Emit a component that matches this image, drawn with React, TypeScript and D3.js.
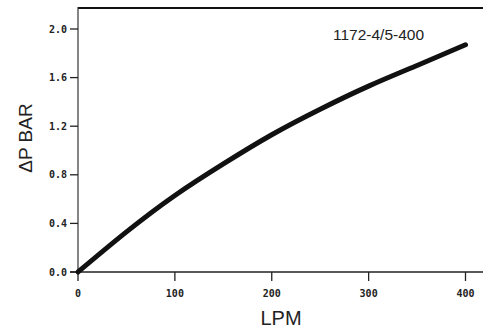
import React from "react";
import * as d3 from "d3";

const flowLPM = [0, 50, 100, 150, 200, 250, 300, 350, 400];
const deltaP = [0, 0.33, 0.63, 0.89, 1.13, 1.34, 1.53, 1.70, 1.87];
const xTicks = [0, 100, 200, 300, 400];
const yTicks = [0, 0.4, 0.8, 1.2, 1.6, 2.0];
const yTickLabels = ["0.0", "0.4", "0.8", "1.2", "1.6", "2.0"];
const seriesLabel = "1172-4/5-400";

export default function App() {
  const W = 483, H = 330;
  const x = d3.scaleLinear().domain([0, 400]).range([78, 465.5]);
  const y = d3.scaleLinear().domain([0, 2.0]).range([272, 29]);
  const line = d3
    .line<number>()
    .x((_, i) => x(flowLPM[i]))
    .y((d) => y(d))
    .curve(d3.curveNatural);
  const tickFont = "'DejaVu Sans Mono', monospace";
  return (
    <svg
      width={W}
      height={H}
      style={{ position: "absolute", left: 0, top: 0, background: "#fff" }}
    >
      <line x1={78} y1={8} x2={483} y2={8} stroke="#111" strokeWidth={2.2} />
      <line x1={78} y1={7} x2={78} y2={272} stroke="#333" strokeWidth={1.2} />
      <line x1={70} y1={272} x2={483} y2={272} stroke="#222" strokeWidth={1.4} />
      {yTicks.map((t, i) => (
        <g key={"y" + i}>
          <line x1={70} x2={78} y1={y(t)} y2={y(t)} stroke="#222" strokeWidth={1.3} />
          <text
            x={67}
            y={y(t)}
            dy="0.35em"
            textAnchor="end"
            fontFamily={tickFont}
            fontWeight="bold"
            fontSize={10}
            fill="#222"
          >
            {yTickLabels[i]}
          </text>
        </g>
      ))}
      {xTicks.map((t, i) => (
        <g key={"x" + i}>
          <line x1={x(t)} x2={x(t)} y1={272} y2={281} stroke="#222" strokeWidth={1.3} />
          <text
            x={x(t)}
            y={297}
            textAnchor="middle"
            fontFamily={tickFont}
            fontWeight="bold"
            fontSize={10}
            fill="#222"
          >
            {t}
          </text>
        </g>
      ))}
      <path
        d={line(deltaP) || ""}
        fill="none"
        stroke="#111"
        strokeWidth={5}
        strokeLinecap="round"
      />
      <text
        x={333}
        y={40}
        fontFamily="'Liberation Sans', Arial, sans-serif"
        fontSize={15.5}
        fill="#222"
      >
        {seriesLabel}
      </text>
      <text
        x={281}
        y={325}
        textAnchor="middle"
        fontFamily="'Liberation Sans', Arial, sans-serif"
        fontSize={20}
        fill="#222"
      >
        LPM
      </text>
      <text
        transform={`translate(32,138) rotate(-90)`}
        textAnchor="middle"
        fontFamily="'Liberation Sans', Arial, sans-serif"
        fontSize={19}
        fill="#222"
      >
        ΔP BAR
      </text>
    </svg>
  );
}
